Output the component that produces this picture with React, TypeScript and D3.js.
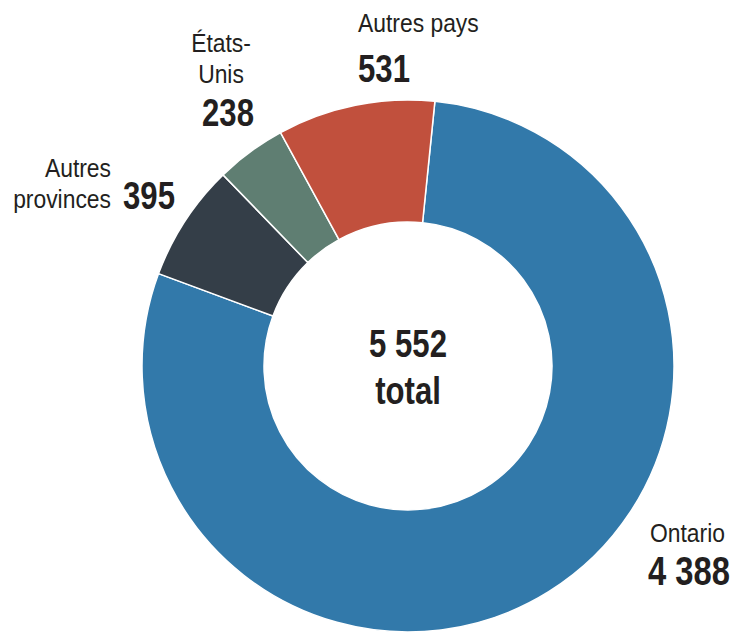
import React from "react";
import * as d3 from "d3";

const categories = ["Ontario", "Autres provinces", "États-Unis", "Autres pays"];
const values = [4388, 395, 238, 531];
const colors = ["#3279aa", "#343e48", "#5f7e72", "#c1503d"];
const totalLabel = "5 552";

const width = 734;
const height = 633;
const cx = 408;
const cy = 366;
const outerR = 266;
const innerR = 144;
const startDeg = 5.8;

const fmt = (v: number) => d3.format(",")(v).replace(/,/g, " ");

const FONT = "'Liberation Sans', Arial, sans-serif";
// no narrow face installed, so squeeze the regular one
const NARROW_BOLD = 0.82;
const NARROW_REG = 0.88;

// label layout, relative to the donut centre
const labelLayout: any = {
    "Ontario": { lines: ["Ontario"], x: 242, y: 176, anchor: "start", valueX: 240, valueY: 219, valueAnchor: "start", valueSize: 40 },
    "Autres provinces": { lines: ["Autres", "provinces"], x: -297, y: -189, anchor: "end", valueX: -285, valueY: -157, valueAnchor: "start", valueSize: 38 },
    "États-Unis": { lines: ["États-", "Unis"], x: -187, y: -314, anchor: "middle", valueX: -180, valueY: -240, valueAnchor: "middle", valueSize: 38 },
    "Autres pays": { lines: ["Autres pays"], x: -50, y: -334, anchor: "start", valueX: -50, valueY: -284, valueAnchor: "start", valueSize: 38 },
};

const Txt = ({ x, y, anchor = "start", size, bold = false, children }: any) => (
    <text
        transform={`translate(${x},${y}) scale(${bold ? NARROW_BOLD : NARROW_REG},1)`}
        textAnchor={anchor}
        fontSize={size}
        fontWeight={bold ? "bold" : "normal"}
        fill="#231f20"
    >
        {children}
    </text>
);

const App = () => {
    const total = d3.sum(values);
    const pie = d3
        .pie<number>()
        .sort(null)
        .startAngle((startDeg * Math.PI) / 180)
        .endAngle((startDeg * Math.PI) / 180 + 2 * Math.PI);
    const arcs = pie(values);
    const arc = d3.arc<d3.PieArcDatum<number>>().innerRadius(innerR).outerRadius(outerR);

    return (
        <svg width={width} height={height} style={{ position: "absolute", left: 0, top: 0 }} fontFamily={FONT}>
            <rect width={width} height={height} fill="#ffffff" />
            <g transform={`translate(${cx},${cy})`}>
                {arcs.map((a, i) => (
                    <path key={categories[i]} d={arc(a) || ""} fill={colors[i]} stroke="#ffffff" strokeWidth={1.5} />
                ))}
                <Txt x={0} y={-9} anchor="middle" size={38} bold>
                    {totalLabel || fmt(total)}
                </Txt>
                <Txt x={0} y={38} anchor="middle" size={38} bold>
                    total
                </Txt>
                {categories.map((c, i) => {
                    const l = labelLayout[c];
                    return (
                        <g key={c}>
                            {l.lines.map((line: string, j: number) => (
                                <Txt key={j} x={l.x} y={l.y + j * 31} anchor={l.anchor} size={26}>
                                    {line}
                                </Txt>
                            ))}
                            <Txt x={l.valueX} y={l.valueY} anchor={l.valueAnchor} size={l.valueSize} bold>
                                {fmt(values[i])}
                            </Txt>
                        </g>
                    );
                })}
            </g>
        </svg>
    );
};

export default App;
